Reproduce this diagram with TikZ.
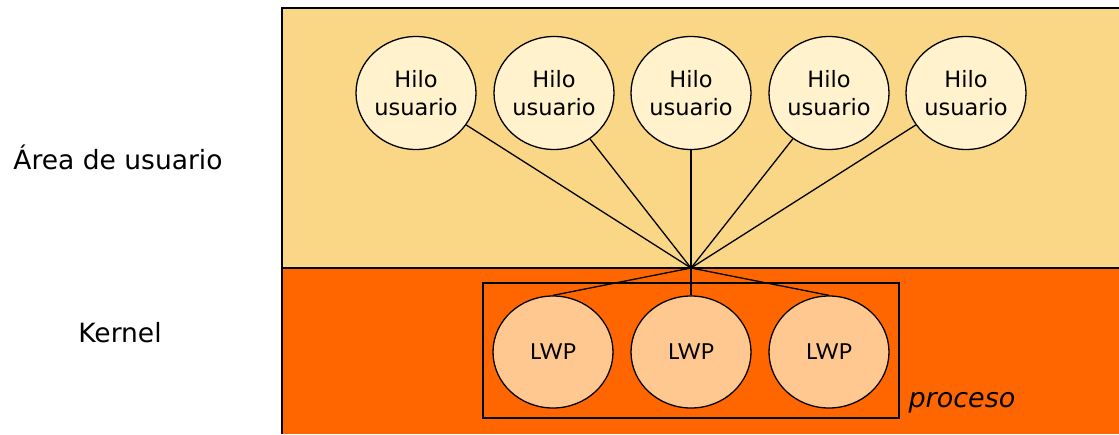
\documentclass[tikz,border=0pt]{standalone}
\usepackage{fontspec}
\setmainfont{DejaVu Sans}
\newfontfamily\lwpfont{Lato}[Scale=1]
\usetikzlibrary{shapes.geometric}
\definecolor{userbg}{HTML}{FAD786}
\definecolor{kernbg}{HTML}{FF6600}
\definecolor{hilofill}{HTML}{FFF2CC}
\definecolor{lwpfill}{HTML}{FFC891}
\tikzset{
  hilo/.style={ellipse, draw=black, line width=1.3pt, fill=hilofill, minimum width=120pt, minimum height=113pt, inner sep=0pt, align=center, font=\fontsize{22.5}{28}\selectfont},
  lwp/.style={ellipse, draw=black, line width=1.3pt, fill=lwpfill, minimum width=120pt, minimum height=112pt, inner sep=0pt, font=\fontsize{22}{26}\lwpfont},
  conn/.style={draw=black, line width=1.3pt},
  side/.style={font=\fontsize{26.5}{30}\selectfont}
}
\begin{document}
\begin{tikzpicture}[x=1pt,y=-1pt]
\useasboundingbox (0,0) rectangle (1119,434);
\fill[userbg] (282,8) rectangle (1119,268);
\fill[kernbg] (282,268) rectangle (1119,434);
\draw[line width=1.3pt] (282,434) -- (282,8) -- (1119,8);
\draw[line width=1.3pt] (282,268) -- (1119,268);
\node[side] (ua) at (118,157) {Área de usuario};
\node[side] (kn) at (120,333) {Kernel};
\node[draw=black, line width=1.3pt, minimum width=416pt, minimum height=135pt, inner sep=0pt] (proc) at (691,350.5) {};
\node[anchor=west, font=\itshape\fontsize{27}{30}\selectfont] (proclbl) at (905,403) {proceso};
\coordinate (hub) at (691,268);
\node[hilo] (h1) at (416,93) {Hilo\\usuario};
\node[hilo] (h2) at (554,93) {Hilo\\usuario};
\node[hilo] (h3) at (691,93) {Hilo\\usuario};
\node[hilo] (h4) at (829,93) {Hilo\\usuario};
\node[hilo] (h5) at (966,93) {Hilo\\usuario};
\node[lwp] (l1) at (553,352) {LWP};
\node[lwp] (l2) at (691,352) {LWP};
\node[lwp] (l3) at (829,352) {LWP};
\foreach \h in {h1,h2,h3,h4,h5} \draw[conn] (\h) -- (hub);
\draw[conn] (hub) -- (l1.north);
\draw[conn] (hub) -- (l2.north);
\draw[conn] (hub) -- (l3.north);
\end{tikzpicture}
\end{document}
